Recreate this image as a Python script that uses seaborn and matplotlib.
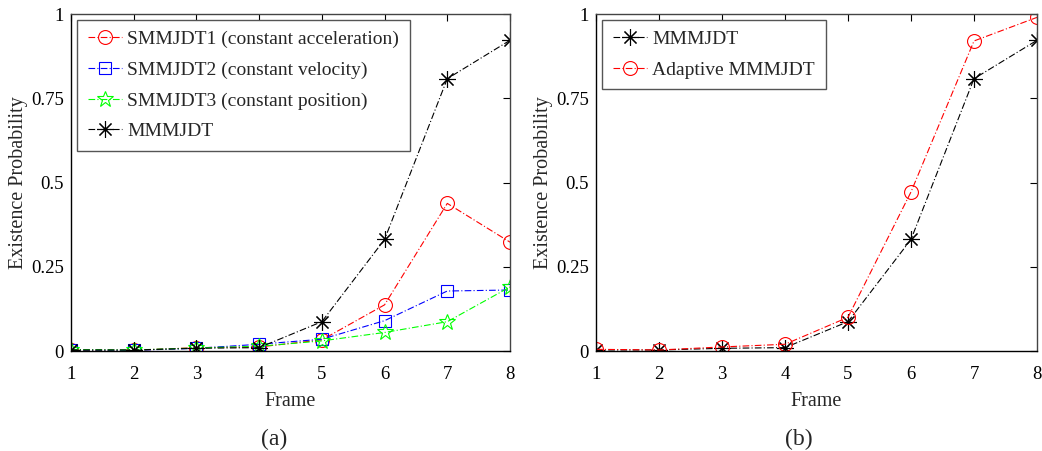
import matplotlib
matplotlib.use("Agg")
import matplotlib.pyplot as plt
import seaborn as sns
import numpy as np

sns.set_style("white")
plt.rcParams['font.family'] = ['Liberation Serif', 'DejaVu Serif']
plt.rcParams['mathtext.fontset'] = 'stix'

frames = [1, 2, 3, 4, 5, 6, 7, 8]
smmjdt1 = [0.002, 0.002, 0.010, 0.012, 0.033, 0.137, 0.438, 0.323]
smmjdt2 = [0.003, 0.002, 0.008, 0.020, 0.035, 0.090, 0.178, 0.181]
smmjdt3 = [0.004, 0.003, 0.009, 0.014, 0.030, 0.055, 0.087, 0.190]
mmmjdt = [0.003, 0.003, 0.008, 0.010, 0.087, 0.331, 0.808, 0.922]
adaptive = [0.005, 0.003, 0.012, 0.020, 0.100, 0.472, 0.920, 0.990]

yticks = [0, 0.25, 0.5, 0.75, 1]
ytick_labels = ["0", "0.25", "0.5", "0.75", "1"]

fig = plt.figure(figsize=(10.42, 4.51), dpi=100)
W, H = 1042, 451
def rect(x0, x1, y0, y1):
    return [x0 / W, 1 - y1 / H, (x1 - x0) / W, (y1 - y0) / H]

axA = fig.add_axes(rect(71, 510, 14, 351))
axB = fig.add_axes(rect(596, 1037, 14, 351))

star8 = (8, 2, 0)
common = dict(linestyle=(0, (6, 2, 1, 2)), linewidth=0.8,
              markerfacecolor='none', markeredgewidth=0.8)

def draw(ax, y, color, marker, label, ms=10):
    sns.lineplot(x=frames, y=y, ax=ax, color=color, marker=marker,
                 label=label, markeredgecolor=color, markersize=ms, **common)

draw(axA, smmjdt1, '#ff0000', 'o', 'SMMJDT1 (constant acceleration)')
draw(axA, smmjdt2, '#0000ff', 's', 'SMMJDT2 (constant velocity)', ms=9)
draw(axA, smmjdt3, '#00ff00', '*', 'SMMJDT3 (constant position)', ms=12)
draw(axA, mmmjdt, '#000000', star8, 'MMMJDT', ms=12)

draw(axB, mmmjdt, '#000000', star8, 'MMMJDT', ms=12)
draw(axB, adaptive, '#ff0000', 'o', 'Adaptive MMMJDT')

for ax, cap, capx in ((axA, '(a)', 274), (axB, '(b)', 799)):
    ax.set_xlim(1, 8)
    ax.set_ylim(0, 1)
    ax.set_xticks(frames)
    ax.set_xticklabels([str(f) for f in frames])
    ax.set_yticks(yticks)
    ax.set_yticklabels(ytick_labels)
    ax.tick_params(direction='in', length=5, width=0.8, labelsize=13.5,
                   top=True, right=True, colors='#000000', pad=5)
    ax.tick_params(axis='x', pad=11)
    for s in ax.spines.values():
        s.set_visible(True)
        s.set_linewidth(1.0)
        s.set_color('#444444')
    ax.spines['left'].set_color('#000000')
    ax.spines['bottom'].set_color('#000000')
    ax.set_xlabel('Frame', fontsize=14.5, labelpad=6)
    ax.set_ylabel('Existence Probability', fontsize=14.5, labelpad=2)
    ax.grid(False)
    leg = ax.legend(loc='upper left', fontsize=14, frameon=True, fancybox=False,
                    edgecolor='#555555', framealpha=1, borderaxespad=0.3,
                    handlelength=1.75, handletextpad=0.3, labelspacing=0.67,
                    borderpad=0.55)
    leg.get_frame().set_linewidth(1.0)
    fig.text(capx / W, 1 - 439 / H, cap, ha='center', va='center', fontsize=17)

fig.savefig('out.png', dpi=100)
